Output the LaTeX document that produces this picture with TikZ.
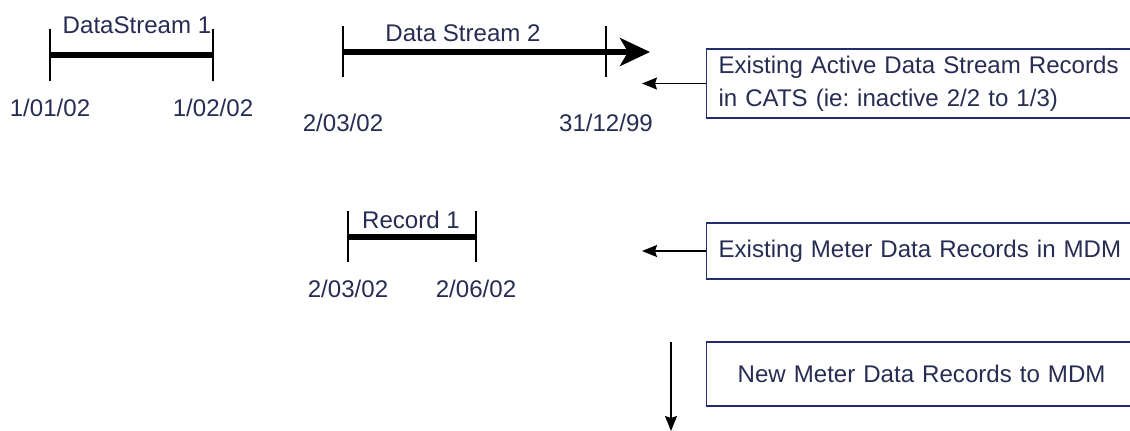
\documentclass[tikz,border=0pt]{standalone}
\usepackage{fontspec}
\setmainfont{Liberation Sans}
\usepackage{xcolor}
\usepackage{tikz}
\usetikzlibrary{arrows.meta, positioning}
\frenchspacing

\definecolor{inkblue}{RGB}{38,44,82}
\definecolor{boxline}{RGB}{35,45,110}

\tikzset{
  tick/.style={line width=1.1pt},
  span/.style={line width=2.9pt},
  lbl/.style={text=inkblue, inner sep=1pt},
  note/.style={draw=boxline, line width=0.7pt, text=inkblue, anchor=west,
    minimum width=8.6cm, text width=8.12cm, inner xsep=0.22cm},
  pointer/.style={line width=0.85pt, -{Stealth[length=0.3cm,width=0.24cm,inset=0.04cm]}}
}

\begin{document}
\begin{tikzpicture}[x=0.02cm, y=-0.02cm,
    every node/.style={font=\fontsize{13.7pt}{18.8pt}\selectfont}]
            \useasboundingbox (0,0) rectangle (1130,430);
            \clip (0,0) rectangle (1130,430);
            % data stream 1
            \coordinate (s1a) at (50,55);
            \coordinate (s1b) at (213,55);
            \draw[tick] (50,29) -- (50,81);
            \draw[tick] (213,29) -- (213,81);
            \draw[span] (s1a) -- (s1b);
            \node[lbl](s1) at (137,25) {DataStream 1};
            \node[lbl](d11) at (50,108) {1/01/02};
            \node[lbl](d12) at (213,108) {1/02/02};
            % data stream 2
            \coordinate (s2a) at (343,52);
            \coordinate (s2b) at (650,52);
            \draw[tick] (343,26) -- (343,77);
            \draw[tick] (606,26) -- (606,77);
            \draw[span, -{Stealth[length=0.6cm,width=0.56cm,inset=0.16cm]}] (s2a) -- (s2b);
            \node[lbl](s2) at (463,33) {Data Stream 2};
            \node[lbl](d21) at (343,123) {2/03/02};
            \node[lbl](d22) at (606,123) {31/12/99};
            % record 1
            \coordinate (r1a) at (348,237);
            \coordinate (r1b) at (476,237);
            \draw[tick] (348,211) -- (348,262);
            \draw[tick] (476,211) -- (476,262);
            \draw[span] (r1a) -- (r1b);
            \node[lbl](r1) at (411,220) {Record 1};
            \node[lbl](d31) at (348,289) {2/03/02};
            \node[lbl](d32) at (476,289) {2/06/02};
            % notes
            \node[note, minimum height=1.38cm, align=left](n1) at (706,83.5)
              {Existing Active Data Stream Records\\in CATS (ie: inactive 2/2 to 1/3)};
            \node[note, minimum height=1.12cm, align=left](n2) at (706,251)
              {Existing Meter Data Records in MDM};
            \node[note, minimum height=1.28cm, align=center](n3) at (706,374)
              {New Meter Data Records to MDM};
            \coordinate (p1) at (642,83.5);
            \coordinate (p2) at (642,251);
            \coordinate (q1) at (671,342);
            \coordinate (q2) at (671,431);
            \draw[pointer] (n1.west) -- (p1);
            \draw[pointer] (n2.west) -- (p2);
            \draw[pointer] (q1) -- (q2);
        \end{tikzpicture}
\end{document}
